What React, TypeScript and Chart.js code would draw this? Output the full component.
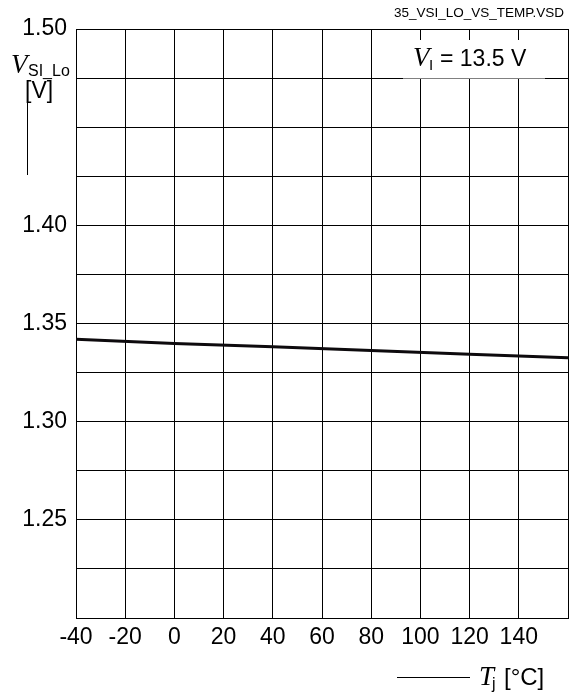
import React, { useEffect, useRef } from "react";
import { Chart, registerables } from "chart.js";

Chart.register(...registerables);

const temperatures = [-40, 0, 40, 80, 120, 160];
const vsiLo = [1.342, 1.3398, 1.3381, 1.3362, 1.3343, 1.3325];
const xTickLabels = ["-40", "-20", "0", "20", "40", "60", "80", "100", "120", "140"];
const yTickLabels = ["1.25", "1.30", "1.35", "1.40", "1.50"];
const fileTitle = "35_VSI_LO_VS_TEMP.VSD";

const SANS = '"Liberation Sans", Arial, sans-serif';
const SERIF = '"Liberation Serif", "Times New Roman", serif';

const textPlugin = {
  id: "texts",
  afterDraw(chart: any) {
    const ctx = chart.ctx as CanvasRenderingContext2D;
    ctx.save();
    ctx.fillStyle = "#000";
    ctx.textBaseline = "alphabetic";
    // file title
    ctx.font = `13.5px ${SANS}`;
    ctx.textAlign = "right";
    ctx.fillText(fileTitle, 564, 17);
    ctx.textAlign = "left";

    // annotation box
    ctx.fillStyle = "#fff";
    ctx.fillRect(403, 40, 142, 38.5);
    ctx.fillStyle = "#000";
    ctx.font = `italic 27px ${SERIF}`;
    ctx.fillText("V", 413, 66);
    ctx.font = `15px ${SANS}`;
    ctx.fillText("I", 429, 70);
    ctx.font = `23px ${SANS}`;
    ctx.fillText("= 13.5 V", 440, 66);

    // y-axis title
    ctx.font = `italic 27px ${SERIF}`;
    ctx.fillText("V", 11, 73);
    ctx.font = `16px ${SANS}`;
    ctx.fillText("SI_Lo", 28, 76);
    ctx.font = `23px ${SANS}`;
    ctx.fillText("[V]", 25, 98);
    ctx.strokeStyle = "#000";
    ctx.lineWidth = 1;
    ctx.beginPath();
    ctx.moveTo(27.5, 103);
    ctx.lineTo(27.5, 175);
    ctx.stroke();

    // x-axis title
    ctx.beginPath();
    ctx.moveTo(397, 677.5);
    ctx.lineTo(470, 677.5);
    ctx.stroke();
    ctx.font = `italic 27px ${SERIF}`;
    ctx.fillText("T", 479, 685);
    ctx.font = `16px ${SANS}`;
    ctx.fillText("j", 492, 689);
    ctx.font = `24px ${SANS}`;
    ctx.fillText("[°C]", 504, 685);
    ctx.restore();
  },
};

export default function App() {
  const ref = useRef<HTMLCanvasElement>(null);
  useEffect(() => {
    if (!ref.current) return;
    const chart = new Chart(ref.current, {
      type: "line",
      data: {
        datasets: [
          {
            data: temperatures.map((t, i) => ({ x: t, y: vsiLo[i] })),
            borderColor: "#0d0a0d",
            borderWidth: 3,
            pointRadius: 0,
            tension: 0,
          },
        ],
      },
      options: {
        responsive: false,
        animation: false,
        devicePixelRatio: 1,
        layout: { padding: { top: 29, right: 8, left: 0, bottom: 0 } },
        plugins: { legend: { display: false }, tooltip: { enabled: false } },
        scales: {
          x: {
            type: "linear",
            min: -40,
            max: 160,
            afterFit: (s: any) => {
              s.height = 75;
            },
            ticks: {
              stepSize: 20,
              autoSkip: false,
              maxRotation: 0,
              padding: 6,
              color: "#000",
              font: { family: SANS, size: 23 },
              callback: (v: any) => {
                const l = String(v);
                return xTickLabels.includes(l) ? l : "";
              },
            },
            grid: { color: "#000", lineWidth: 1, drawTicks: false },
            border: { display: true, color: "#000", width: 1 },
          },
          y: {
            type: "linear",
            min: 1.2,
            max: 1.5,
            afterFit: (s: any) => {
              s.width = 76;
            },
            ticks: {
              stepSize: 0.025,
              autoSkip: false,
              padding: 9,
              color: "#000",
              font: { family: SANS, size: 23 },
              callback: (v: any) => {
                const l = (Math.round(Number(v) * 1000) / 1000).toFixed(2);
                const exact = Math.abs(Number(v) - Number(l)) < 1e-6;
                return exact && yTickLabels.includes(l) ? l : "";
              },
            },
            grid: { color: "#000", lineWidth: 1, drawTicks: false },
            border: { display: true, color: "#000", width: 1 },
          },
        },
      },
      plugins: [textPlugin],
    });
    return () => chart.destroy();
  }, []);
  return (
    <div style={{ position: "fixed", left: 0, top: 0, width: 576, height: 693, background: "#fff" }}>
      <canvas ref={ref} width={576} height={693} />
    </div>
  );
}
